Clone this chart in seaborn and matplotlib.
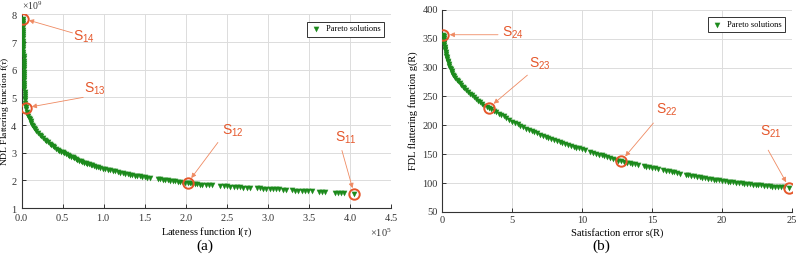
import pandas as pd
import matplotlib
matplotlib.use('Agg')
import matplotlib.pyplot as plt
import seaborn as sns
from matplotlib.ticker import ScalarFormatter

# (a) Pareto front: lateness (x1e5), NDL flattering (x1e9)
pareto_a = [
    (0.015, 7.85), (0.016, 7.77), (0.016, 7.69), (0.017, 7.61), (0.017, 7.53),
    (0.018, 7.45), (0.018, 7.37), (0.019, 7.29), (0.019, 7.21), (0.020, 7.13),
    (0.020, 7.05), (0.021, 6.97), (0.021, 6.89), (0.022, 6.81), (0.022, 6.73),
    (0.023, 6.65), (0.023, 6.57), (0.024, 6.49), (0.024, 6.41), (0.025, 6.33),
    (0.025, 6.25), (0.026, 6.17), (0.026, 6.09), (0.027, 6.01), (0.028, 5.93),
    (0.028, 5.85), (0.029, 5.77), (0.030, 5.69), (0.031, 5.61), (0.032, 5.53),
    (0.033, 5.45), (0.034, 5.37), (0.035, 5.29), (0.036, 5.21), (0.037, 5.13),
    (0.038, 5.05), (0.040, 4.97), (0.041, 4.89), (0.043, 4.81), (0.045, 4.73),
    (0.048, 4.65), (0.052, 4.57), (0.06, 4.48), (0.07, 4.40), (0.08, 4.33),
    (0.09, 4.26), (0.10, 4.20), (0.11, 4.13), (0.12, 4.07), (0.13, 4.01),
    (0.14, 3.96), (0.15, 3.91), (0.16, 3.86), (0.18, 3.79), (0.20, 3.72),
    (0.22, 3.65), (0.24, 3.59), (0.26, 3.53), (0.28, 3.47), (0.30, 3.42),
    (0.32, 3.37), (0.34, 3.32), (0.36, 3.27), (0.38, 3.23), (0.40, 3.19),
    (0.42, 3.15), (0.44, 3.11), (0.46, 3.07), (0.48, 3.04), (0.50, 3.01),
    (0.52, 2.98), (0.54, 2.95), (0.56, 2.92), (0.58, 2.89), (0.60, 2.86),
    (0.62, 2.83), (0.64, 2.80), (0.66, 2.77), (0.68, 2.74), (0.70, 2.71),
    (0.72, 2.69), (0.74, 2.66), (0.76, 2.64), (0.78, 2.62), (0.80, 2.60),
    (0.82, 2.58), (0.84, 2.56), (0.86, 2.54), (0.88, 2.52), (0.90, 2.50),
    (0.93, 2.47), (0.96, 2.45), (0.99, 2.42), (1.02, 2.40), (1.05, 2.38),
    (1.08, 2.36), (1.11, 2.34), (1.14, 2.32), (1.17, 2.30), (1.20, 2.28),
    (1.23, 2.26), (1.26, 2.24), (1.29, 2.22), (1.32, 2.21), (1.35, 2.19),
    (1.38, 2.17), (1.41, 2.16), (1.44, 2.14), (1.47, 2.13), (1.50, 2.12),
    (1.53, 2.10), (1.56, 2.09), (1.66, 2.05), (1.69, 2.04), (1.72, 2.02),
    (1.75, 2.01), (1.78, 2.00), (1.81, 1.98), (1.84, 1.97), (1.87, 1.96),
    (1.90, 1.95), (1.93, 1.93), (1.96, 1.92), (1.99, 1.91), (2.02, 1.90),
    (2.05, 1.89), (2.08, 1.88), (2.11, 1.87), (2.14, 1.86), (2.17, 1.85),
    (2.20, 1.85), (2.24, 1.84), (2.28, 1.83), (2.32, 1.82), (2.42, 1.80),
    (2.46, 1.79), (2.50, 1.78), (2.54, 1.77), (2.58, 1.77), (2.62, 1.76),
    (2.66, 1.75), (2.70, 1.74), (2.74, 1.74), (2.78, 1.73), (2.86, 1.71),
    (2.90, 1.71), (2.94, 1.70), (2.98, 1.69), (3.02, 1.69), (3.06, 1.68),
    (3.10, 1.67), (3.14, 1.67), (3.18, 1.66), (3.22, 1.65), (3.29, 1.64),
    (3.33, 1.63), (3.37, 1.63), (3.41, 1.62), (3.45, 1.61), (3.49, 1.61),
    (3.53, 1.60), (3.62, 1.58), (3.66, 1.58), (3.70, 1.57), (3.81, 1.55),
    (3.85, 1.55), (3.89, 1.54), (3.93, 1.53), (4.05, 1.50),
]

# (b) Pareto front: satisfaction error, FDL flattering
pareto_b = [
    (0.10, 357), (0.11, 354), (0.12, 351), (0.13, 348), (0.14, 345),
    (0.15, 342), (0.17, 339), (0.19, 336), (0.21, 333), (0.23, 330),
    (0.25, 327), (0.28, 324), (0.31, 321), (0.34, 318), (0.37, 315),
    (0.40, 312), (0.44, 309), (0.48, 306), (0.52, 303), (0.57, 300),
    (0.62, 297), (0.68, 294), (0.74, 291), (0.81, 288), (0.88, 285),
    (0.96, 282), (1.05, 279), (1.15, 276), (1.25, 273), (1.36, 270),
    (1.48, 267), (1.60, 264), (1.72, 261), (1.85, 258), (1.98, 255),
    (2.12, 252), (2.26, 249), (2.40, 246), (2.55, 243), (2.70, 240),
    (2.86, 237), (3.02, 234), (3.18, 232.5), (3.35, 230.5), (3.52, 228),
    (3.70, 225.5), (3.88, 223), (4.06, 220.5), (4.24, 218), (4.42, 215.5),
    (4.60, 213), (4.80, 210), (5.00, 206.5), (5.20, 204), (5.40, 201.5),
    (5.60, 199), (5.80, 196.5), (6.00, 194), (6.20, 192), (6.40, 190),
    (6.60, 188), (6.80, 186), (7.00, 183.5), (7.20, 181.5), (7.40, 179.5),
    (7.60, 177.5), (7.80, 176), (8.00, 174), (8.20, 172.5), (8.40, 170.5),
    (8.60, 169), (8.80, 167.5), (9.00, 166), (9.20, 164.5), (9.40, 163),
    (9.60, 161.5), (9.80, 160), (10.00, 158.5), (10.20, 157), (10.60, 154),
    (10.80, 152.5), (11.00, 151), (11.20, 149.5), (11.40, 148), (11.60, 146.5),
    (11.80, 145), (12.00, 143.5), (12.20, 142), (12.40, 140.5), (12.60, 139),
    (12.80, 138), (13.00, 136.5), (13.20, 135.5), (13.40, 134.5), (13.60, 133.5),
    (13.80, 132.5), (14.00, 131.5), (14.40, 129.5), (14.60, 128.5), (14.80, 127.5),
    (15.00, 126.5), (15.20, 125.5), (15.40, 124.5), (15.80, 122.5), (16.00, 121.5),
    (16.20, 120.5), (16.40, 119.5), (16.60, 118.5), (16.80, 117.5), (17.00, 116.5),
    (17.40, 114.5), (17.60, 113.5), (17.80, 112.5), (18.00, 112), (18.20, 111),
    (18.40, 110), (18.60, 109.5), (18.80, 108.5), (19.00, 107.5), (19.20, 107),
    (19.40, 106), (19.60, 105.5), (19.80, 104.5), (20.00, 104), (20.20, 103),
    (20.40, 102.5), (20.60, 101.5), (20.80, 101), (21.00, 100.5), (21.20, 100),
    (21.40, 99.5), (21.60, 99), (21.80, 98.5), (22.00, 98), (22.20, 97.5),
    (22.40, 97), (22.60, 96.5), (22.80, 96), (23.00, 95.5), (23.20, 95),
    (23.40, 94.5), (23.60, 94), (23.80, 93.5), (24.00, 93), (24.20, 92.8),
    (24.40, 92.5), (24.80, 92),
]

# highlighted solutions
sel_a_names = ['14', '13', '12', '11']
sel_a_x = [0.015, 0.048, 2.02, 4.05]
sel_a_y = [7.85, 4.62, 1.90, 1.50]
sel_b_names = ['24', '23', '22', '21']
sel_b_x = [0.10, 3.35, 12.80, 24.80]
sel_b_y = [357, 230.5, 138, 92]

green = '#1c8a1c'
orange = '#e5572b'
arrow_c = '#ef8a62'

plt.rcParams['font.family'] = ['Liberation Serif', 'DejaVu Serif']
plt.rcParams['mathtext.fontset'] = 'custom'
plt.rcParams['mathtext.rm'] = 'Liberation Serif'
plt.rcParams['mathtext.it'] = 'Liberation Serif:italic'
plt.rcParams['mathtext.sf'] = 'Liberation Sans'

fig = plt.figure(figsize=(8, 2.61), dpi=100)
ax1 = fig.add_axes([0.027, 0.203, 0.462, 0.742])
ax2 = fig.add_axes([0.5525, 0.188, 0.4375, 0.774])

df_a = pd.DataFrame({'x': [p[0] * 1e5 for p in pareto_a], 'y': [p[1] * 1e9 for p in pareto_a]})
df_b = pd.DataFrame({'x': [p[0] for p in pareto_b], 'y': [p[1] for p in pareto_b]})

sns.scatterplot(data=df_a, x='x', y='y', ax=ax1, marker='v', s=14, color=green,
                edgecolor=green, linewidth=0.2, label='Pareto solutions', zorder=3)
sns.scatterplot(data=df_b, x='x', y='y', ax=ax2, marker='v', s=14, color=green,
                edgecolor=green, linewidth=0.2, label='Pareto solutions', zorder=3)

# circles on selected solutions
ax1.plot([v * 1e5 for v in sel_a_x], [v * 1e9 for v in sel_a_y], 'o', ms=7.5,
         mfc='none', mec=orange, mew=1.4, zorder=4)
ax2.plot(sel_b_x, sel_b_y, 'o', ms=7.5, mfc='none', mec=orange, mew=1.4, zorder=4)

# label positions (text) and arrow starting points, in data units
lab_a = [(0.63, 7.20), (0.76, 5.30), (2.44, 3.80), (3.82, 3.52)]
arr_a = [(0.62, 7.33), (0.75, 5.0), (2.39, 3.37), (3.90, 3.08)]
lab_b = [(4.3, 360), (6.2, 306), (15.3, 227), (22.7, 188)]
arr_b = [(4.0, 357), (6.1, 287), (15.1, 204), (23.3, 157)]

for name, (px, py), (tx, ty), (ax_, ay_) in zip(sel_a_names, zip(sel_a_x, sel_a_y), lab_a, arr_a):
    ax1.text(tx * 1e5, ty * 1e9, r'$\mathsf{S_{' + name + '}}$', color=orange,
             fontsize=10, va='center', ha='left')
    ax1.annotate('', xy=(px * 1e5, py * 1e9), xytext=(ax_ * 1e5, ay_ * 1e9),
                 arrowprops=dict(arrowstyle='-|>', color=arrow_c, lw=0.6,
                                 mutation_scale=7, shrinkA=0, shrinkB=4.5), zorder=5)
for name, (px, py), (tx, ty), (ax_, ay_) in zip(sel_b_names, zip(sel_b_x, sel_b_y), lab_b, arr_b):
    ax2.text(tx, ty, r'$\mathsf{S_{' + name + '}}$', color=orange,
             fontsize=10, va='center', ha='left')
    ax2.annotate('', xy=(px, py), xytext=(ax_, ay_),
                 arrowprops=dict(arrowstyle='-|>', color=arrow_c, lw=0.6,
                                 mutation_scale=7, shrinkA=0, shrinkB=4.5), zorder=5)

for ax in (ax1, ax2):
    ax.grid(True, color='#dcdcdc', linewidth=0.7)
    ax.set_axisbelow(True)
    for s in ('top', 'right'):
        ax.spines[s].set_visible(False)
    for s in ('left', 'bottom'):
        ax.spines[s].set_color('#333333')
        ax.spines[s].set_linewidth(0.8)
    ax.tick_params(direction='in', length=3, width=0.7, labelsize=7.5,
                   colors='#333333', pad=3)
    leg = ax.legend(loc='upper right', fontsize=6, frameon=True, fancybox=False,
                    edgecolor='#333333', framealpha=1, handletextpad=0.6,
                    borderaxespad=0.9, handlelength=1.2, borderpad=0.4)
    leg.get_frame().set_linewidth(0.7)

ax1.set_xlim(0, 4.5e5)
ax1.set_ylim(1e9, 8e9)
ax1.set_xticks([i * 0.5e5 for i in range(10)])
ax1.set_yticks([i * 1e9 for i in range(1, 9)])
for axis in (ax1.xaxis, ax1.yaxis):
    fmt = ScalarFormatter(useMathText=True)
    fmt.set_powerlimits((0, 0))
    axis.set_major_formatter(fmt)
    axis.get_offset_text().set_visible(False)
ax1.text(0.0, 1.022, r'$\times10^{9}$', transform=ax1.transAxes, fontsize=7,
         color='#333333', ha='left', va='baseline')
ax1.text(1.0, -0.128, r'$\times10^{5}$', transform=ax1.transAxes, fontsize=7.5,
         color='#333333', ha='right', va='center')
ax1.set_xlabel(r'Lateness function l($\it{\tau}$)', fontsize=7.5, labelpad=2)
ax1.set_ylabel(r'NDL Flattering function f($\it{\tau}$)', fontsize=6.8)
ax1.yaxis.set_label_coords(-0.03, 0.5)

ax2.set_xlim(0, 25)
ax2.set_ylim(50, 400)
ax2.set_xticks(range(0, 26, 5))
ax2.set_yticks(range(50, 401, 50))
ax2.set_xlabel('Satisfaction error s(R)', fontsize=7.5, labelpad=2)
ax2.set_ylabel('FDL flattering function g(R)', fontsize=7.5)
ax2.yaxis.set_label_coords(-0.068, 0.5)

fig.text(0.256, 0.055, '(a)', fontsize=11, ha='center', va='center')
fig.text(0.752, 0.055, '(b)', fontsize=11, ha='center', va='center')

fig.savefig('out.png', dpi=100)
